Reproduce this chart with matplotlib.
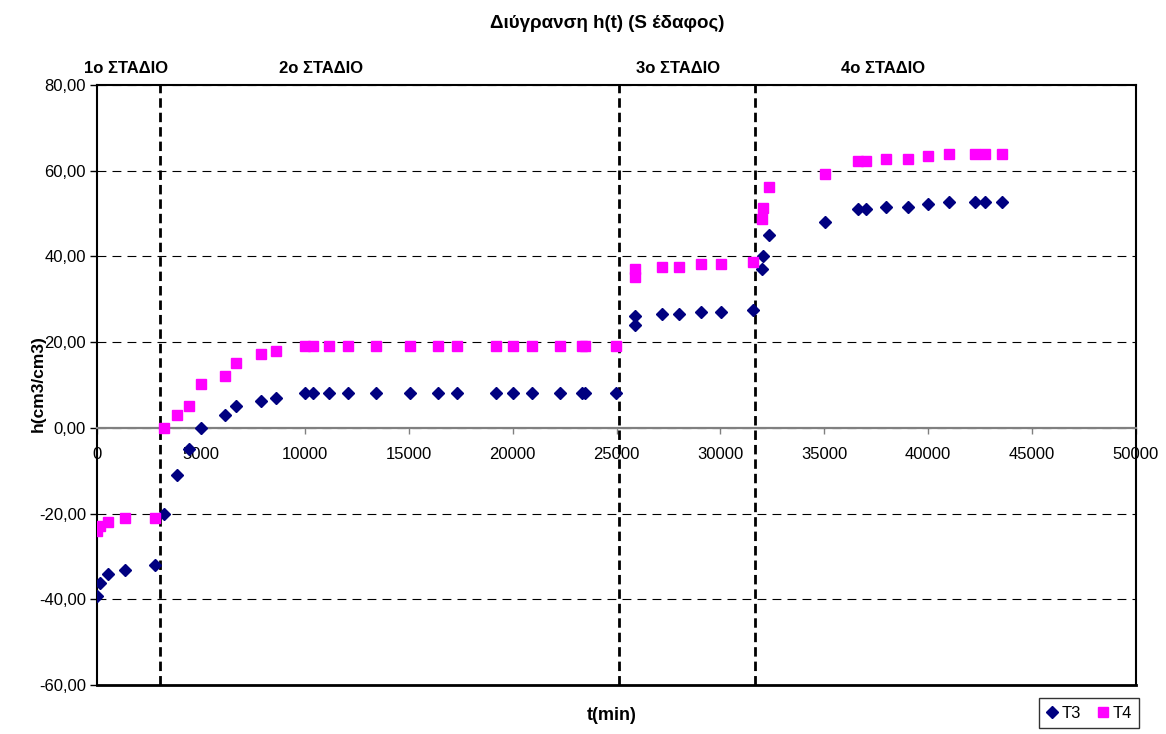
import matplotlib
matplotlib.use("Agg")
import matplotlib.pyplot as plt
from matplotlib.ticker import FuncFormatter

plt.rcParams['font.family'] = ['Liberation Sans', 'DejaVu Sans']

# ---- data ----
t_min = [0, 130, 510, 1350, 2810,
         3230, 3850, 4430, 5010, 6170, 6680, 7900, 8620, 9990, 10400, 11170, 12080,
         13420, 15050, 16420, 17320, 19210, 20040, 20940, 22290, 23340, 23500, 24970,
         25880, 25900, 27190, 28020, 29080, 30030, 31570,
         32000, 32030, 32330, 35030, 36640, 37010, 37990, 39010, 39990, 41010, 42270, 42710, 43570]

T3 = [-39.2, -36.1, -34.1, -33.1, -32.1,
      -20.1, -11.0, -5.0, 0.0, 3.0, 5.0, 6.2, 7.0, 8.1, 8.1, 8.1, 8.1,
      8.1, 8.1, 8.1, 8.1, 8.1, 8.1, 8.1, 8.1, 8.1, 8.1, 8.1,
      24.0, 26.1, 26.5, 26.5, 27.1, 27.1, 27.6,
      37.0, 40.1, 45.1, 48.1, 51.1, 51.1, 51.6, 51.6, 52.2, 52.7, 52.7, 52.7, 52.7]

T4 = [-24.0, -23.0, -22.0, -21.0, -21.0,
      0.0, 3.0, 5.1, 10.2, 12.1, 15.1, 17.2, 18.0, 19.1, 19.1, 19.1, 19.1,
      19.1, 19.1, 19.1, 19.1, 19.1, 19.1, 19.1, 19.1, 19.1, 19.1, 19.1,
      35.2, 37.0, 37.6, 37.6, 38.3, 38.3, 38.7,
      48.7, 51.3, 56.2, 59.3, 62.2, 62.2, 62.8, 62.8, 63.4, 63.8, 63.8, 63.8, 63.8]

stage_bounds = [3030, 25100, 31650]
stage_labels = ['1o ΣΤΑΔΙΟ', '2o ΣΤΑΔΙΟ', '3o ΣΤΑΔΙΟ', '4o ΣΤΑΔΙΟ']
stage_label_x = [1400, 10790, 27970, 37840]

x_ticks = list(range(0, 50001, 5000))
y_ticks = list(range(-60, 81, 20))

# ---- figure ----
fig = plt.figure(figsize=(11.66, 7.34), dpi=100)
ax = fig.add_axes([97/1166, 49/734, 1039/1166, 600/734])

ax.set_xlim(0, 50000)
ax.set_ylim(-60, 80)

# grid
ax.set_yticks(y_ticks)
ax.set_xticks(x_ticks)
ax.set_axisbelow(True)
ax.yaxis.grid(True, color='black', linewidth=0.8, linestyle=(0, (8, 5.5)))

# stage boundaries
for xb in stage_bounds:
    ax.axvline(xb, color='black', linewidth=2.0, linestyle=(0, (3.4, 1.8)), zorder=3)

# data
ax.plot(t_min, T3, linestyle='none', marker='D', markersize=6.3, color='#000080',
        markeredgecolor='#000080', label='T3', zorder=4)
ax.plot(t_min, T4, linestyle='none', marker='s', markersize=7, color='#FF00FF',
        markeredgecolor='#FF00FF', label='T4', zorder=4)

# spines
for s in ['left', 'right', 'top']:
    ax.spines[s].set_color('black')
    ax.spines[s].set_linewidth(1.5)
ax.spines['bottom'].set_position(('data', 0))
ax.spines['bottom'].set_color('#808080')
ax.spines['bottom'].set_linewidth(1.6)
ax.axhline(-60, color='black', linewidth=2.0, clip_on=False, zorder=5)

ax.tick_params(axis='x', direction='out', length=4, width=1, color='#808080',
               labelsize=12, pad=10)
ax.tick_params(axis='y', direction='out', length=5, width=1, color='black',
               labelsize=12, pad=3)
ax.yaxis.set_major_formatter(FuncFormatter(lambda v, p: f"{v:.2f}".replace('.', ',')))
ax.xaxis.set_major_formatter(FuncFormatter(lambda v, p: f"{int(v)}"))

# labels
fig.text(607/1166, 1 - 23/734, 'Διύγρανση h(t) (S έδαφος)', ha='center', va='center',
         fontsize=13.5, fontweight='bold')
fig.text(612/1166, 1 - 716/734, 't(min)', ha='center', va='center',
         fontsize=13, fontweight='bold')
fig.text(38/1166, 1 - 384/734, 'h(cm3/cm3)', ha='center', va='center', rotation=90,
         fontsize=12.5, fontweight='bold')

for lx, lab in zip(stage_label_x, stage_labels):
    ax.text(lx, 83.8, lab, ha='center', va='center', fontsize=12, fontweight='bold',
            clip_on=False)

leg = fig.legend(loc='upper left', bbox_to_anchor=(1039/1166, 1 - 698/734), ncol=2,
                 fontsize=12, frameon=True, fancybox=False, edgecolor='black',
                 handlelength=0.6, handletextpad=0.3, columnspacing=1.0,
                 borderpad=0.45, borderaxespad=0)
leg.get_frame().set_linewidth(1.0)

fig.savefig('out.png', dpi=100)
